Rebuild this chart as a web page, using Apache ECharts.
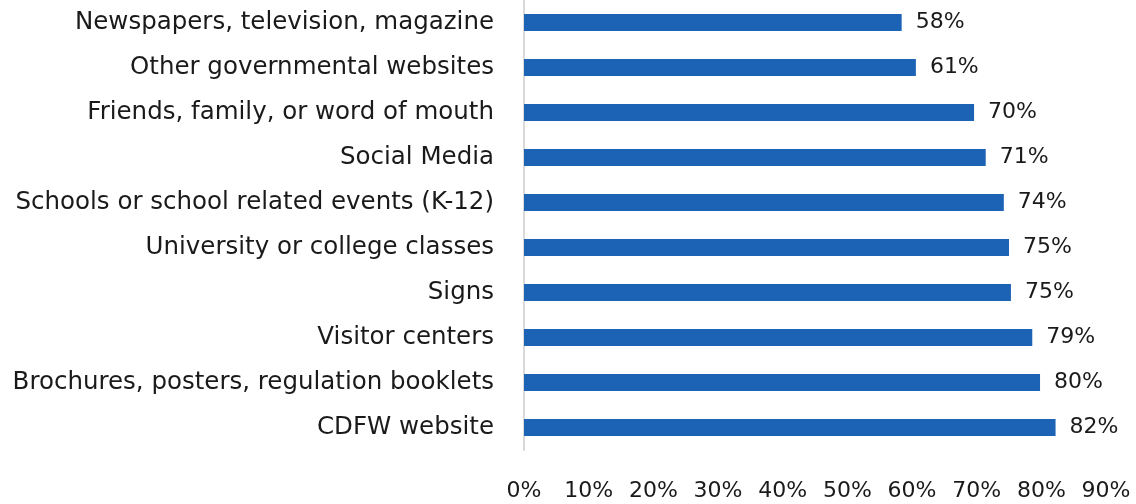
<!DOCTYPE html>
<html>
<head>
<meta charset="utf-8">
<script src="https://cdn.jsdelivr.net/npm/echarts@6/dist/echarts.min.js"></script>
<style>
  html, body { margin: 0; padding: 0; background: #fff; }
  #chart { width: 1136px; height: 504px; }
</style>
</head>
<body>
<div id="chart"></div>
<script>
// categories listed bottom to top (echarts category axis starts at the bottom)
const categories = [
  "CDFW website",
  "Brochures, posters, regulation booklets",
  "Visitor centers",
  "Signs",
  "University or college classes",
  "Schools or school related events (K-12)",
  "Social Media",
  "Friends, family, or word of mouth",
  "Other governmental websites",
  "Newspapers, television, magazine"
];
const values = [82.2, 79.8, 78.6, 75.3, 75.0, 74.2, 71.4, 69.6, 60.6, 58.4];
const xTicks = [0, 10, 20, 30, 40, 50, 60, 70, 80, 90];

const chart = echarts.init(document.getElementById("chart"));
const font = "DejaVu Sans";

const option = {
  animation: false,
  grid: { left: 524, right: 30, top: 0, height: 450, containLabel: false },
  xAxis: {
    type: "value",
    min: xTicks[0],
    max: xTicks[xTicks.length - 1],
    interval: 10,
    axisLine: { show: false },
    axisTick: { show: false },
    splitLine: { show: false },
    axisLabel: {
      formatter: "{value}%",
      margin: 30,
      color: "#1a1a1a",
      fontFamily: font,
      fontSize: 22
    }
  },
  yAxis: {
    type: "category",
    data: categories,
    axisLine: { show: true, lineStyle: { color: "#d9d9d9", width: 2 } },
    axisTick: { show: false },
    axisLabel: {
      margin: 30,
      color: "#1a1a1a",
      fontFamily: font,
      fontSize: 24.5
    }
  },
  series: [{
    type: "bar",
    data: values,
    barWidth: 17,
    itemStyle: { color: "#1c62b5" },
    label: {
      show: true,
      position: "right",
      distance: 14,
      formatter: p => Math.round(p.value) + "%",
      color: "#1a1a1a",
      fontFamily: font,
      fontSize: 22
    }
  }]
};
chart.setOption(option);
</script>
</body>
</html>
